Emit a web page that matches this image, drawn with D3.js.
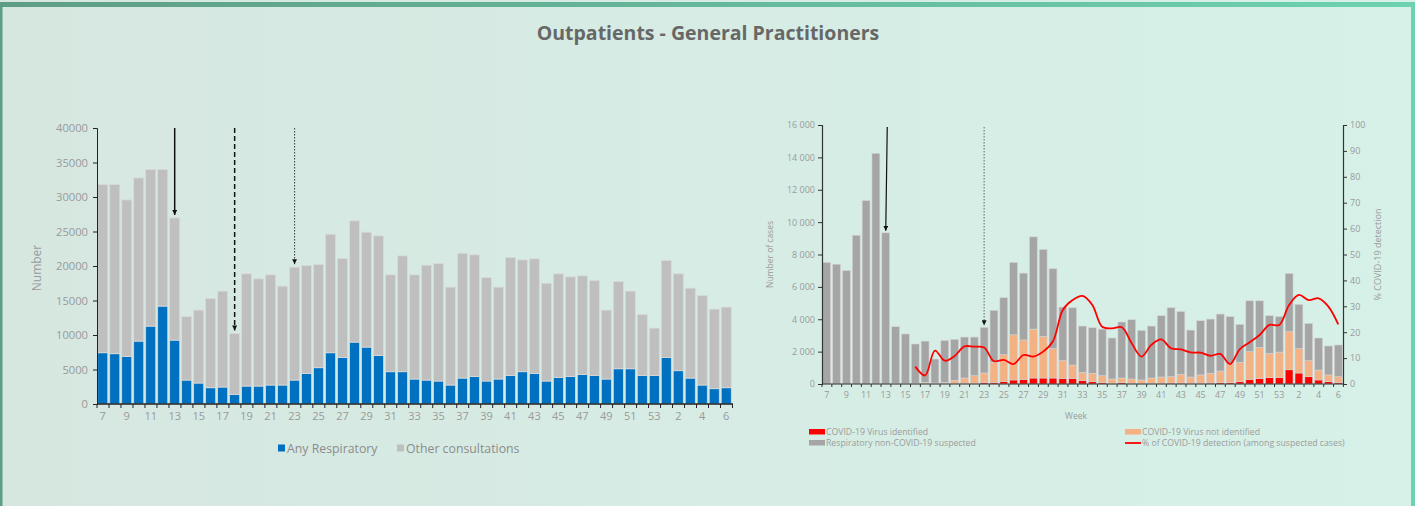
<!DOCTYPE html>
<html>
<head>
<meta charset="utf-8">
<script src="https://cdn.jsdelivr.net/npm/d3@7"></script>
<style>
  html, body { margin: 0; padding: 0; overflow: hidden; }
  body { width: 1415px; height: 506px; }
  text { font-family: "Open Sans", "DejaVu Sans", sans-serif; }
</style>
</head>
<body>
<script>
// weeks 2020 w7 .. 2021 w6
const weeks = ["7","8","9","10","11","12","13","14","15","16","17","18","19","20","21","22","23","24","25","26","27","28","29","30",
  "31","32","33","34","35","36","37","38","39","40","41","42","43","44","45","46","47","48","49","50","51","52","53",
  "1","2","3","4","5","6"];
const weekLabels = weeks.filter((d, i) => i % 2 == 0);

// left chart: GP consultations
const anyRespiratory = [7430,7290,6900,9120,11290,14190,9260,3470,3040,2360,2460,1400,2600,2600,2750,2750,3470,4440,5260,7430,6760,8970,8250,7040,
  4680,4680,3620,3470,3330,2750,3760,4000,3330,3620,4150,4680,4440,3330,3860,4000,4290,4150,3620,5110,5110,4150,4150,
  6760,4830,3760,2750,2220,2360];
const otherConsultations = [24370,24510,22680,23640,22680,19780,17710,9220,10570,12940,13900,8830,16270,15540,15970,14330,16360,15630,14960,17180,14330,17570,16650,17330,
  14040,16790,15100,16650,17030,14190,18100,17620,15010,13320,17080,16210,16600,14180,15010,14430,14290,13750,9990,12650,11250,8830,6850,
  14040,14040,13030,12980,11530,11680];

// right chart: sentinel samples
const covidIdentified = [0,0,0,0,0,0,0,10,10,10,20,10,20,20,30,30,100,100,160,250,290,370,370,370,
  350,350,210,140,80,40,80,50,40,40,50,60,60,50,50,60,80,80,140,290,350,390,390,
  880,680,450,250,140,100];
const covidNotIdentified = [0,0,0,0,0,0,0,30,30,40,80,50,80,210,340,480,580,1240,1650,2790,2430,3020,2570,1830,
  1090,820,510,520,430,270,290,260,210,330,380,390,540,380,510,600,720,1200,1200,1710,1910,1500,1580,
  2350,1500,990,610,420,350];
const nonCovidSuspected = [7510,7400,7010,9190,11330,14250,9340,3500,3050,2420,2550,1480,2590,2530,2530,2390,2820,3210,3520,4470,4130,5700,5370,4920,
  3310,3540,2860,2820,2880,2530,3460,3660,3060,3210,3790,4260,3880,2900,3350,3350,3520,2880,2340,3140,2880,2330,2190,
  3600,2740,2300,1980,1790,1960];
const pctDetection = [null,null,null,null,null,null,null,null,null,6.7,3.3,12.9,9.0,10.8,14.5,14.4,14.1,8.8,9.3,7.7,11.2,10.6,12.5,16.5,
  28.6,32.4,34,30.5,22.1,21.5,21.9,15.7,10.6,15.1,17.2,13.8,13.4,12.2,12.1,10.9,11.6,7.7,13.5,16.1,18.9,22.8,22.8,
  30.5,34.4,32.4,33.1,29.9,23];

const leftYTicks = [0,5000,10000,15000,20000,25000,30000,35000,40000];
const rightYTicks = [0,2000,4000,6000,8000,10000,12000,14000,16000];
const pctTicks = [0,10,20,30,40,50,60,70,80,90,100];
// arrows: solid, dashed, dotted
const arrowsLeft = [{w: "13", dash: null}, {w: "18", dash: "5,3"}, {w: "23", dash: "1.5,1.5"}];
const arrowsRight = [{w: "13", dash: null}, {w: "23", dash: "1.5,1.5"}];

const dims = { w: 1415, h: 506 };
const grayText = "#9a9a9a";

const svg = d3.select("body").append("svg")
  .attr("width", dims.w)
  .attr("height", dims.h);

const defs = svg.append("defs");
const bg = defs.append("linearGradient").attr("id", "bg");
bg.append("stop").attr("offset", "0%").attr("stop-color", "#d6e7e0");
bg.append("stop").attr("offset", "100%").attr("stop-color", "#d6f1e8");
const topg = defs.append("linearGradient").attr("id", "topbar");
topg.append("stop").attr("offset", "0%").attr("stop-color", "#5e9d85");
topg.append("stop").attr("offset", "100%").attr("stop-color", "#6dd2b1");
defs.append("marker")
  .attr("id", "arrowhead")
  .attr("viewBox", "0 0 10 10")
  .attr("refX", 10).attr("refY", 5)
  .attr("markerWidth", 5).attr("markerHeight", 5)
  .attr("markerUnits", "userSpaceOnUse")
  .attr("orient", "auto")
  .append("path").attr("d", "M0,0 L10,5 L0,10 z").attr("fill", "#111");

svg.append("rect").attr("width", dims.w).attr("height", dims.h).attr("fill", "url(#bg)");
svg.append("rect").attr("x", 0).attr("y", 2).attr("width", dims.w).attr("height", 5).attr("fill", "url(#topbar)");
svg.append("rect").attr("x", 0).attr("y", 2).attr("width", 2.5).attr("height", dims.h).attr("fill", "#5e9d85");
svg.append("rect").attr("x", 1411).attr("y", 2).attr("width", 4).attr("height", dims.h).attr("fill", "#6dd2b1");

svg.append("text")
  .attr("x", 708).attr("y", 40)
  .attr("text-anchor", "middle")
  .attr("font-size", 19.5)
  .attr("font-weight", "bold")
  .attr("fill", "#676767")
  .text("Outpatients - General Practitioners");

// ---------- left chart ----------
const L = { l: 97, r: 732, t: 128, b: 404 };
const xL = d3.scaleBand().domain(weeks).range([L.l, L.r]).paddingInner(0.16).paddingOuter(0.06);
const yL = d3.scaleLinear().domain([0, 40000]).range([L.b, L.t]);

const leftRows = weeks.map((w, i) => ({ w: w, resp: anyRespiratory[i], other: otherConsultations[i] }));
const stackL = d3.stack().keys(["resp", "other"])(leftRows);
const colorsL = { resp: "#0070c0", other: "#bfbfbf" };

svg.append("g").selectAll("g")
  .data(stackL)
  .enter().append("g")
  .attr("fill", d => colorsL[d.key])
  .selectAll("rect")
  .data(d => d)
  .enter().append("rect")
  .attr("x", d => xL(d.data.w))
  .attr("width", xL.bandwidth())
  .attr("y", d => yL(d[1]))
  .attr("height", d => yL(d[0]) - yL(d[1]))
  .attr("stroke", "#dadada")
  .attr("stroke-width", 0.8);

const axL = svg.append("g")
  .attr("transform", `translate(${L.l},0)`)
  .call(d3.axisLeft(yL).tickValues(leftYTicks).tickSize(4).tickPadding(5).tickFormat(d3.format("d")));
axL.select(".domain").attr("stroke", "#222");
axL.selectAll(".tick line").attr("stroke", "#222");
axL.selectAll("text").attr("fill", grayText).attr("font-size", 11.2);

// x axis: ticks between bars, labels on bars
const bottomL = svg.append("g");
bottomL.append("line").attr("x1", L.l).attr("x2", L.r + 1).attr("y1", L.b).attr("y2", L.b).attr("stroke", "#222").attr("stroke-width", 1.3);
bottomL.selectAll("line.t")
  .data(d3.range(weeks.length + 1))
  .enter().append("line")
  .attr("class", "t")
  .attr("x1", i => L.l + i * xL.step())
  .attr("x2", i => L.l + i * xL.step())
  .attr("y1", L.b).attr("y2", L.b + 4)
  .attr("stroke", "#222");
bottomL.selectAll("text")
  .data(weekLabels)
  .enter().append("text")
  .attr("x", d => xL(d) + xL.bandwidth() / 2)
  .attr("y", L.b + 16)
  .attr("text-anchor", "middle")
  .attr("font-size", 11)
  .attr("fill", grayText)
  .text(d => d);

svg.append("text")
  .attr("transform", `translate(41,${(L.t + L.b) / 2 + 2}) rotate(-90)`)
  .attr("text-anchor", "middle")
  .attr("font-size", 12)
  .attr("fill", grayText)
  .text("Number");

svg.append("g").selectAll("line")
  .data(arrowsLeft)
  .enter().append("line")
  .attr("x1", d => xL(d.w) + xL.bandwidth() / 2)
  .attr("x2", d => xL(d.w) + xL.bandwidth() / 2)
  .attr("y1", L.t)
  .attr("y2", d => { let i = weeks.indexOf(d.w); return yL(anyRespiratory[i] + otherConsultations[i]) - 3; })
  .attr("stroke", "#111")
  .attr("stroke-width", d => d.dash == "1.5,1.5" ? 0.8 : 1.5)
  .attr("stroke-dasharray", d => d.dash)
  .attr("marker-end", "url(#arrowhead)");

const legL = svg.append("g").attr("transform", "translate(278,448)");
[["Any Respiratory", colorsL.resp, 0], ["Other consultations", colorsL.other, 119]].forEach(([t, c, dx]) => {
  legL.append("rect").attr("x", dx).attr("y", -3.5).attr("width", 7).attr("height", 7).attr("fill", c);
  legL.append("text").attr("x", dx + 9).attr("y", 4.5).attr("font-size", 12.3).attr("fill", "#8c8c8c").text(t);
});

// ---------- right chart ----------
const R = { l: 822, r: 1343, t: 125, b: 384 };
const xR = d3.scaleBand().domain(weeks).range([R.l, R.r]).paddingInner(0.2).paddingOuter(0.08);
const yR = d3.scaleLinear().domain([0, 16000]).range([R.b, R.t]);
const pR = d3.scaleLinear().domain([0, 100]).range([R.b, R.t]);

const rightRows = weeks.map((w, i) => ({ w: w, ident: covidIdentified[i], notIdent: covidNotIdentified[i], nonCovid: nonCovidSuspected[i] }));
const stackR = d3.stack().keys(["ident", "notIdent", "nonCovid"])(rightRows);
const colorsR = { ident: "#ff0000", notIdent: "#f4b183", nonCovid: "#a5a5a5" };

svg.append("g").selectAll("g")
  .data(stackR)
  .enter().append("g")
  .attr("fill", d => colorsR[d.key])
  .selectAll("rect")
  .data(d => d)
  .enter().append("rect")
  .attr("x", d => xR(d.data.w))
  .attr("width", xR.bandwidth())
  .attr("y", d => yR(d[1]))
  .attr("height", d => yR(d[0]) - yR(d[1]))
  .attr("stroke", d => d[1] > d[0] ? "#d4d4d4" : "none")
  .attr("stroke-width", 0.6);

const spaceFmt = d => d3.format(",")(d).replace(",", " ");
const axRL = svg.append("g")
  .attr("transform", `translate(${R.l},0)`)
  .call(d3.axisLeft(yR).tickValues(rightYTicks).tickSize(4).tickFormat(spaceFmt));
const axRR = svg.append("g")
  .attr("transform", `translate(${R.r},0)`)
  .call(d3.axisRight(pR).tickValues(pctTicks).tickSize(4));
[axRL, axRR].forEach(a => {
  a.select(".domain").attr("stroke", "#333").attr("stroke-width", 1.2);
  a.selectAll(".tick line").attr("stroke", "#333");
  a.selectAll("text").attr("fill", grayText).attr("font-size", 9);
});

const bottomR = svg.append("g");
bottomR.append("line").attr("x1", R.l).attr("x2", R.r).attr("y1", R.b).attr("y2", R.b).attr("stroke", "#333").attr("stroke-width", 1.2);
bottomR.selectAll("line.t")
  .data(d3.range(weeks.length + 1))
  .enter().append("line")
  .attr("class", "t")
  .attr("x1", i => R.l + i * xR.step())
  .attr("x2", i => R.l + i * xR.step())
  .attr("y1", R.b).attr("y2", R.b + 3)
  .attr("stroke", "#333");
bottomR.selectAll("text")
  .data(weekLabels)
  .enter().append("text")
  .attr("x", d => xR(d) + xR.bandwidth() / 2)
  .attr("y", R.b + 14)
  .attr("text-anchor", "middle")
  .attr("font-size", 9)
  .attr("fill", grayText)
  .text(d => d);

svg.append("text")
  .attr("x", 1076).attr("y", 419)
  .attr("text-anchor", "middle")
  .attr("font-size", 8.5)
  .attr("fill", grayText)
  .text("Week");

svg.append("text")
  .attr("transform", `translate(773,${(R.t + R.b) / 2}) rotate(-90)`)
  .attr("text-anchor", "middle")
  .attr("font-size", 8.5)
  .attr("fill", grayText)
  .text("Number of cases");

svg.append("text")
  .attr("transform", `translate(1381,${(R.t + R.b) / 2}) rotate(-90)`)
  .attr("text-anchor", "middle")
  .attr("font-size", 9)
  .attr("fill", grayText)
  .text("% COVID-19 detection");

const pctLine = d3.line()
  .defined(d => d.v != null)
  .x(d => xR(d.w) + xR.bandwidth() / 2)
  .y(d => pR(d.v))
  .curve(d3.curveCatmullRom.alpha(0.5));

svg.append("path")
  .datum(weeks.map((w, i) => ({ w: w, v: pctDetection[i] })))
  .attr("d", pctLine)
  .attr("fill", "none")
  .attr("stroke", "#ff0000")
  .attr("stroke-width", 1.8);

svg.append("g").selectAll("line")
  .data(arrowsRight)
  .enter().append("line")
  .attr("x1", d => xR(d.w) + xR.bandwidth() / 2 + (d.dash ? 0 : 1.5))
  .attr("x2", d => xR(d.w) + xR.bandwidth() / 2)
  .attr("y1", R.t + 2)
  .attr("y2", d => { let i = weeks.indexOf(d.w); return yR(covidIdentified[i] + covidNotIdentified[i] + nonCovidSuspected[i]) - 2; })
  .attr("stroke", "#111")
  .attr("stroke-width", d => d.dash ? 0.6 : 1.2)
  .attr("stroke-dasharray", d => d.dash)
  .attr("marker-end", "url(#arrowhead)");

const legR = svg.append("g");
[["COVID-19 Virus identified", colorsR.ident, 809, 432, "rect"],
 ["Respiratory non-COVID-19 suspected", colorsR.nonCovid, 809, 443, "rect"],
 ["COVID-19 Virus not identified", colorsR.notIdent, 1125, 432, "rect"],
 ["% of COVID-19 detection (among suspected cases)", "#ff0000", 1125, 443, "line"]].forEach(([t, c, x, y, k]) => {
  if (k == "rect")
    legR.append("rect").attr("x", x).attr("y", y - 3).attr("width", 16).attr("height", 5.5).attr("fill", c);
  else
    legR.append("line").attr("x1", x).attr("x2", x + 16).attr("y1", y).attr("y2", y).attr("stroke", c).attr("stroke-width", 1.8);
  legR.append("text").attr("x", x + 17).attr("y", y + 3).attr("font-size", 8.7).attr("fill", "#9c9c9c").text(t);
});
</script>
</body>
</html>
